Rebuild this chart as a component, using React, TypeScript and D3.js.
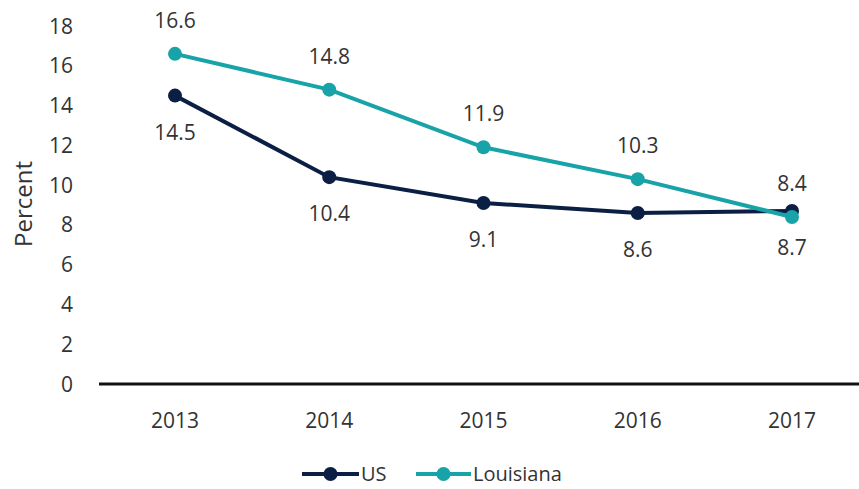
import { useEffect, useRef } from "react"
import * as d3 from "d3"

const years = ["2013", "2014", "2015", "2016", "2017"]
const usValues = [14.5, 10.4, 9.1, 8.6, 8.7]
const laValues = [16.6, 14.8, 11.9, 10.3, 8.4]
const yTicks = [0, 2, 4, 6, 8, 10, 12, 14, 16, 18]

const NAVY = "#0b1f45"
const TEAL = "#18a3a8"
const FONT = "'Open Sans', sans-serif"
const TEXT = "#333"
const FS = 21

export default function App() {
  const svgRef = useRef<SVGSVGElement>(null)

  useEffect(() => {
    if (!svgRef.current) return
    const width = 859
    const height = 489
    const svg = d3.select(svgRef.current)
    svg.selectAll("*").remove()

    const x = d3.scalePoint<string>().domain(years).range([175, 792])
    const y = d3.scaleLinear().domain([0, 18]).range([384, 26])

    // y tick labels (no axis line)
    svg.append("g")
      .selectAll("text")
      .data(yTicks)
      .enter().append("text")
      .attr("x", 73)
      .attr("y", d => y(d))
      .attr("dy", "0.36em")
      .attr("text-anchor", "end")
      .attr("font-family", FONT)
      .attr("font-size", FS)
      .attr("fill", TEXT)
      .text(d => d)

    svg.append("text")
      .attr("transform", `translate(32,${y(9) - 1}) rotate(-90)`)
      .attr("text-anchor", "middle")
      .attr("font-family", FONT)
      .attr("font-size", 24)
      .attr("fill", TEXT)
      .text("Percent")

    // x axis line
    svg.append("line")
      .attr("x1", 99).attr("x2", width)
      .attr("y1", y(0)).attr("y2", y(0))
      .attr("stroke", "#111")
      .attr("stroke-width", 3)

    svg.append("g")
      .selectAll("text")
      .data(years)
      .enter().append("text")
      .attr("x", d => x(d) as number)
      .attr("y", 428)
      .attr("text-anchor", "middle")
      .attr("font-family", FONT)
      .attr("font-size", FS)
      .attr("fill", TEXT)
      .text(d => d)

    const line = d3.line<number>()
      .x((_, i) => x(years[i]) as number)
      .y(d => y(d))

    const series = [
      { name: "US", values: usValues, color: NAVY, dy: 44 },
      { name: "Louisiana", values: laValues, color: TEAL, dy: -26 },
    ]

    series.forEach(s => {
      svg.append("path")
        .datum(s.values)
        .attr("fill", "none")
        .attr("stroke", s.color)
        .attr("stroke-width", 4)
        .attr("d", line)

      svg.append("g")
        .selectAll("circle")
        .data(s.values)
        .enter().append("circle")
        .attr("cx", (_, i) => x(years[i]) as number)
        .attr("cy", d => y(d))
        .attr("r", 7)
        .attr("fill", s.color)

      svg.append("g")
        .selectAll("text")
        .data(s.values)
        .enter().append("text")
        .attr("x", (_, i) => x(years[i]) as number)
        .attr("y", d => y(d) + s.dy)
        .attr("text-anchor", "middle")
        .attr("font-family", FONT)
        .attr("font-size", FS)
        .attr("fill", TEXT)
        .text(d => d.toFixed(1))
    })

    // legend
    const legend = [
      { name: "US", color: NAVY, x0: 302, x1: 359 },
      { name: "Louisiana", color: TEAL, x0: 416, x1: 471 },
    ]
    const ly = 474
    legend.forEach(l => {
      svg.append("line")
        .attr("x1", l.x0).attr("x2", l.x1)
        .attr("y1", ly).attr("y2", ly)
        .attr("stroke", l.color)
        .attr("stroke-width", 4)
      svg.append("circle")
        .attr("cx", (l.x0 + l.x1) / 2)
        .attr("cy", ly)
        .attr("r", 7)
        .attr("fill", l.color)
      svg.append("text")
        .attr("x", l.x1 + 2)
        .attr("y", ly)
        .attr("dy", "0.36em")
        .attr("font-family", FONT)
        .attr("font-size", 20)
        .attr("fill", TEXT)
        .text(l.name)
    })

    svg.attr("width", width).attr("height", height)
  }, [])

  return (
    <div style={{ position: "absolute", left: 0, top: 0 }}>
      <svg ref={svgRef} style={{ display: "block", background: "#fff" }}></svg>
    </div>
  )
}
